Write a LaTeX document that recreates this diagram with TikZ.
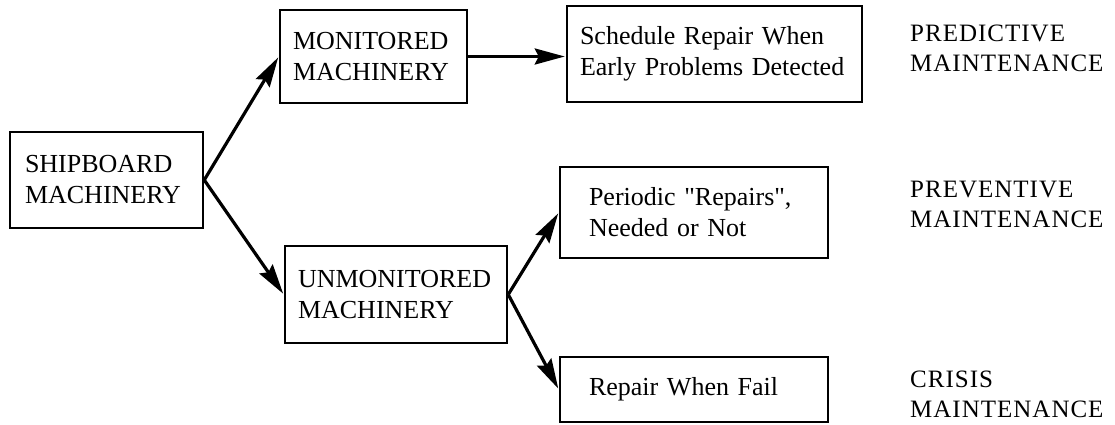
\documentclass[tikz,border=0pt]{standalone}
\usepackage{fontspec}
\setmainfont{Liberation Serif}
\newfontfamily\qf{Liberation Serif}
\newfontfamily\labfont{Liberation Serif}[LetterSpace=4]
\usetikzlibrary{arrows.meta}
\begin{document}
\begin{tikzpicture}[x=1pt,y=-1pt,
  font=\fontsize{26}{31}\selectfont,
  box/.style={draw, line width=2.5pt, align=left, inner ysep=0pt},
  maint/.style={align=left, inner sep=0pt, anchor=west, font=\labfont\fontsize{25}{30}\selectfont},
  conn/.style={line width=3.2pt, -{Stealth[length=30pt,width=16pt,inset=4pt]}, shorten >=1pt}]
\useasboundingbox (0,0) rectangle (1115,425);
\node[box, minimum height=96pt, text width=163pt, inner xsep=15pt] (ship) at (106.5,180) {SHIPBOARD\\MACHINERY};
\node[box, minimum height=93pt, text width=161pt, inner xsep=13pt] (mon) at (373.5,56.5) {MONITORED\\MACHINERY};
\node[box, minimum height=96pt, text width=269pt, inner xsep=13pt] (sched) at (714.5,54) {Schedule Repair When\\Early Problems Detected};
\node[box, minimum height=97pt, text width=196pt, inner xsep=13pt] (unmon) at (396,294.5) {UNMONITORED\\MACHINERY};
\node[box, minimum height=91pt, text width=210pt, inner xsep=29pt] (period) at (694,212.5) {Periodic {\qf"}Repairs{\qf"},\\Needed or Not};
\node[box, minimum height=65pt, text width=210pt, inner xsep=29pt] (fail) at (694,389.5) {Repair When Fail};
\node[maint] (pred) at (910,48) {PREDICTIVE\\MAINTENANCE};
\node[maint] (prev) at (910,204.5) {PREVENTIVE\\MAINTENANCE};
\node[maint] (cris) at (910,394.5) {CRISIS\\MAINTENANCE};
\draw[conn] (ship.east) -- (mon.west);
\draw[conn] (ship.east) -- (unmon.west);
\draw[conn] (mon.east) -- (mon.east -| sched.west);
\draw[conn] (unmon.east) -- (period.west);
\draw[conn] (unmon.east) -- (fail.west);
\end{tikzpicture}
\end{document}
